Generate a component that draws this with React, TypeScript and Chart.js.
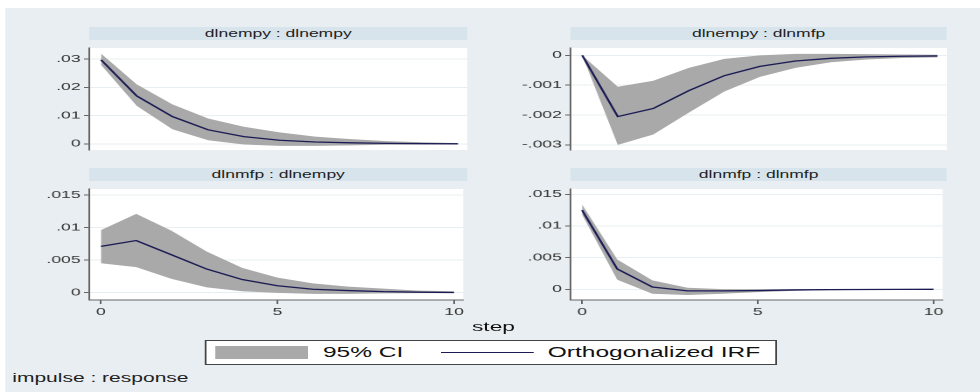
import React, { useEffect, useRef } from "react";
import { Chart, registerables } from "chart.js";

Chart.register(...registerables);

// ---- data ----
const steps = [0, 1, 2, 3, 4, 5, 6, 7, 8, 9, 10];
const xTicks = [0, 5, 10];

const p1Title = "dlnempy : dlnempy";
const p1Irf = [0.0298, 0.017, 0.0097, 0.005, 0.0026, 0.0013, 0.0007, 0.0004, 0.0002, 0.0001, 0.00005];
const p1Upper = [0.032, 0.0211, 0.014, 0.009, 0.0061, 0.0041, 0.0026, 0.0017, 0.001, 0.0006, 0.0003];
const p1Lower = [0.028, 0.0135, 0.0052, 0.0013, -0.0002, -0.0007, -0.0007, -0.0005, -0.0003, -0.0002, -0.0001];
const p1Ticks = [0, 0.01, 0.02, 0.03];

const p2Title = "dlnempy : dlnmfp";
const p2Irf = [0, -0.00205, -0.00178, -0.00118, -0.00068, -0.00037, -0.00019, -0.0001, -0.00005, -0.00003, -0.00002];
const p2Upper = [0, -0.00105, -0.00085, -0.00042, -0.00012, 0, 0.00005, 0.00005, 0.00004, 0.00003, 0.00002];
const p2Lower = [0, -0.003, -0.00265, -0.00192, -0.00121, -0.00072, -0.00042, -0.00023, -0.00014, -0.00009, -0.00007];
const p2Ticks = [-0.003, -0.002, -0.001, 0];

const p3Title = "dlnmfp : dlnempy";
const p3Irf = [0.0071, 0.008, 0.0058, 0.0036, 0.002, 0.00105, 0.0005, 0.0003, 0.00014, 0.00005, 0];
const p3Upper = [0.0096, 0.0121, 0.0095, 0.0063, 0.0038, 0.0023, 0.0014, 0.0009, 0.0006, 0.0003, 0.0002];
const p3Lower = [0.0045, 0.0039, 0.0021, 0.0008, 0.0002, -0.00005, -0.0002, -0.0002, -0.00014, -0.0001, -0.0001];
const p3Ticks = [0, 0.005, 0.01, 0.015];

const p4Title = "dlnmfp : dlnmfp";
const p4Irf = [0.0125, 0.0032, 0.00036, -0.00025, -0.00025, -0.0002, -0.0001, -0.00005, -0.00003, -0.00001, 0];
const p4Upper = [0.0134, 0.0047, 0.0014, 0.00025, 0.00002, 0, 0.00002, 0.00002, 0.00001, 0.00001, 0.00001];
const p4Lower = [0.0118, 0.0015, -0.0007, -0.0009, -0.0007, -0.00045, -0.00025, -0.00015, -0.0001, -0.00005, -0.00003];
const p4Ticks = [0, 0.005, 0.01, 0.015];

const legendCI = "95% CI";
const legendIRF = "Orthogonalized IRF";
const xTitle = "step";
const note = "impulse : response";

// ---- styling / layout ----
const FONT = '"Liberation Sans", Arial, Helvetica, sans-serif';
const STRETCH = 1.75;
const W0 = 560;
const YW = 46;
const XH = 20;
const BG = "#e8eef1";
const BAND = "#d8e4eb";
const CI_COLOR = "#a9a9a9";
const LINE_COLOR = "#1c1c55";

const fmt = (v: number) => {
  if (Math.abs(v) < 1e-12) return "0";
  const s = String(+v.toFixed(5));
  return s.replace(/^(-?)0\./, "$1.");
};

const whiteArea = {
  id: "whiteArea",
  beforeDraw(chart: any) {
    const { ctx, chartArea: a } = chart;
    ctx.save();
    ctx.fillStyle = "#ffffff";
    ctx.fillRect(a.left, a.top, a.right - a.left, a.bottom - a.top);
    ctx.restore();
  },
};

type PanelProps = {
  title: string;
  irf: number[];
  upper: number[];
  lower: number[];
  yTicks: number[];
  yMin: number;
  yMax: number;
  plotLeft: number;
  plotRight: number;
  plotTop: number;
  plotBottom: number;
  showX: boolean;
};

function Panel(p: PanelProps) {
  const ref = useRef<HTMLCanvasElement | null>(null);
  const cLeft = p.plotLeft - YW;
  const cWidth = p.plotRight - cLeft;
  const cHeight = p.plotBottom - p.plotTop + (p.showX ? XH : 0);

  useEffect(() => {
    if (!ref.current) return;
    const pts = (arr: number[]) => steps.map((s, i) => ({ x: s, y: arr[i] }));
    const chart = new Chart(ref.current, {
      type: "line",
      data: {
        datasets: [
          {
            label: "upper",
            data: pts(p.upper),
            borderWidth: 0,
            borderColor: "rgba(0,0,0,0)",
            backgroundColor: CI_COLOR,
            pointRadius: 0,
            fill: "+1",
            tension: 0,
            order: 2,
          },
          {
            label: "lower",
            data: pts(p.lower),
            borderWidth: 0,
            borderColor: "rgba(0,0,0,0)",
            backgroundColor: CI_COLOR,
            pointRadius: 0,
            fill: false,
            tension: 0,
            order: 2,
          },
          {
            label: "irf",
            data: pts(p.irf),
            borderWidth: 1.3,
            borderColor: LINE_COLOR,
            pointRadius: 0,
            fill: false,
            tension: 0,
            order: 0,
          },
        ],
      },
      options: {
        responsive: false,
        maintainAspectRatio: false,
        animation: false,
        devicePixelRatio: 2,
        layout: { padding: 0 },
        plugins: {
          legend: { display: false },
          tooltip: { enabled: false },
          title: { display: false },
        },
        scales: {
          x: {
            type: "linear",
            min: -0.33,
            max: 10.26,
            display: p.showX,
            afterBuildTicks: (scale: any) => {
              scale.ticks = xTicks.map((v) => ({ value: v }));
            },
            afterFit: (scale: any) => {
              scale.height = p.showX ? XH : 0;
            },
            grid: {
              drawOnChartArea: false,
              drawTicks: true,
              tickLength: 4,
              tickColor: "#666",
            },
            border: { display: true, color: "#666", width: 1 },
            ticks: {
              padding: 2,
              color: "#333",
              font: { family: FONT, size: 10 },
              maxRotation: 0,
              callback: (v: any) => String(v),
            },
          },
          y: {
            type: "linear",
            min: p.yMin,
            max: p.yMax,
            afterBuildTicks: (scale: any) => {
              scale.ticks = p.yTicks.map((v) => ({ value: v }));
            },
            afterFit: (scale: any) => {
              scale.width = YW;
            },
            grid: {
              color: "#e8eff2",
              lineWidth: 1,
              drawTicks: true,
              tickLength: 3,
              tickColor: "#666",
            },
            border: { display: true, color: "#666", width: 1 },
            ticks: {
              padding: 2,
              color: "#333",
              font: { family: FONT, size: 10 },
              callback: (v: any) => fmt(Number(v)),
            },
          },
        },
      },
      plugins: [whiteArea],
    } as any);
    return () => chart.destroy();
  }, []);

  return (
    <>
      <div
        style={{
          position: "absolute",
          left: p.plotLeft,
          top: p.plotTop - 13,
          width: p.plotRight - p.plotLeft,
          height: 13,
          background: BAND,
          color: "#222",
          fontFamily: FONT,
          fontSize: 10,
          lineHeight: "13px",
          textAlign: "center",
          whiteSpace: "nowrap",
        }}
      >
        {p.title}
      </div>
      <canvas
        ref={ref}
        width={cWidth}
        height={cHeight}
        style={{
          position: "absolute",
          left: cLeft,
          top: p.plotTop,
          width: cWidth,
          height: cHeight,
        }}
      />
    </>
  );
}

export default function App() {
  return (
    <div
      style={{
        position: "absolute",
        left: 0,
        top: 0,
        width: 980,
        height: 392,
        background: "#ffffff",
        overflow: "hidden",
      }}
    >
      <div
        style={{
          position: "absolute",
          left: 0,
          top: 0,
          width: W0,
          height: 392,
          transform: `scaleX(${STRETCH})`,
          transformOrigin: "0 0",
        }}
      >
        <div
          style={{
            position: "absolute",
            left: 3,
            top: 8,
            width: W0 - 3,
            height: 384,
            background: BG,
          }}
        />
        <Panel
          title={p1Title}
          irf={p1Irf}
          upper={p1Upper}
          lower={p1Lower}
          yTicks={p1Ticks}
          yMin={-0.00214}
          yMax={0.03398}
          plotLeft={51}
          plotRight={267}
          plotTop={40}
          plotBottom={158}
          showX={false}
        />
        <Panel
          title={p2Title}
          irf={p2Irf}
          upper={p2Upper}
          lower={p2Lower}
          yTicks={p2Ticks}
          yMin={-0.00317}
          yMax={0.000246}
          plotLeft={326}
          plotRight={541}
          plotTop={40}
          plotBottom={158}
          showX={false}
        />
        <Panel
          title={p3Title}
          irf={p3Irf}
          upper={p3Upper}
          lower={p3Lower}
          yTicks={p3Ticks}
          yMin={-0.00115}
          yMax={0.01593}
          plotLeft={51}
          plotRight={267}
          plotTop={181}
          plotBottom={300}
          showX={true}
        />
        <Panel
          title={p4Title}
          irf={p4Irf}
          upper={p4Upper}
          lower={p4Lower}
          yTicks={p4Ticks}
          yMin={-0.00169}
          yMax={0.01584}
          plotLeft={326}
          plotRight={541}
          plotTop={181}
          plotBottom={300}
          showX={true}
        />
        <div
          style={{
            position: "absolute",
            left: 232,
            top: 318,
            width: 100,
            height: 18,
            lineHeight: "18px",
            textAlign: "center",
            fontFamily: FONT,
            fontSize: 13,
            color: "#111",
          }}
        >
          {xTitle}
        </div>
        <div
          style={{
            position: "absolute",
            left: 117,
            top: 340,
            width: 327,
            height: 25,
            boxSizing: "border-box",
            background: "#ffffff",
            border: "1px solid #444",
          }}
        />
        <div
          style={{
            position: "absolute",
            left: 123,
            top: 346,
            width: 53,
            height: 13,
            background: CI_COLOR,
          }}
        />
        <div
          style={{
            position: "absolute",
            left: 184.5,
            top: 344,
            height: 17,
            lineHeight: "17px",
            fontFamily: FONT,
            fontSize: 14,
            color: "#111",
            whiteSpace: "nowrap",
          }}
        >
          {legendCI}
        </div>
        <div
          style={{
            position: "absolute",
            left: 252,
            top: 351.5,
            width: 53,
            height: 1.3,
            background: LINE_COLOR,
          }}
        />
        <div
          style={{
            position: "absolute",
            left: 313,
            top: 344,
            height: 17,
            lineHeight: "17px",
            fontFamily: FONT,
            fontSize: 14,
            color: "#111",
            whiteSpace: "nowrap",
          }}
        >
          {legendIRF}
        </div>
        <div
          style={{
            position: "absolute",
            left: 7,
            top: 370,
            height: 16,
            lineHeight: "16px",
            fontFamily: FONT,
            fontSize: 12,
            color: "#222",
            whiteSpace: "nowrap",
          }}
        >
          {note}
        </div>
      </div>
    </div>
  );
}
